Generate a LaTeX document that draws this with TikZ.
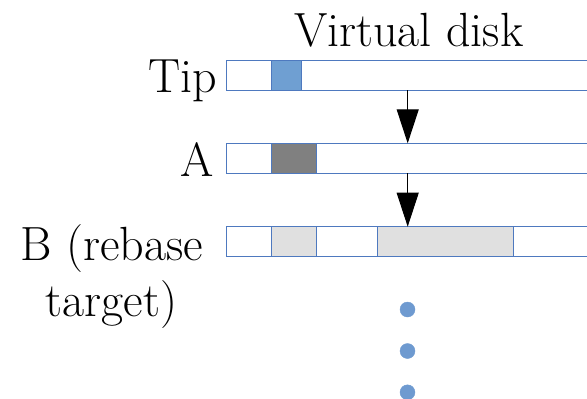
\documentclass[tikz,border=0pt]{standalone}
\usetikzlibrary{arrows.meta}
\definecolor{edgeblue}{HTML}{4E79BF}
\definecolor{cellblue}{HTML}{6F9FD2}
\definecolor{celldark}{HTML}{808080}
\definecolor{celllight}{HTML}{E0E0E0}
\definecolor{dotblue}{HTML}{6E9AD0}
\begin{document}
\begin{tikzpicture}[x=1pt,y=-1pt,
  lbl/.style={inner sep=0pt, font=\fontsize{48}{56}\selectfont},
  bar/.style={draw=edgeblue, line width=0.9pt, fill=white, anchor=north west,
    minimum width=400pt, minimum height=30pt, inner sep=0pt, outer sep=0pt},
  cell/.style={draw=edgeblue, line width=0.9pt, anchor=north west,
    minimum height=30pt, inner sep=0pt, outer sep=0pt},
  dot/.style={circle, fill=dotblue, draw=dotblue, line width=0.4pt,
    minimum size=15pt, inner sep=0pt},
  link/.style={line width=1pt, -{Triangle[length=34pt,width=22pt]}}]
  \useasboundingbox (0,0) rectangle (587,399);
  \clip (0,0) rectangle (587,399);

  % title
  \node[lbl, anchor=base] (title) at (408.7,46.7) {Virtual disk};

  % the three disks of the chain
  \node[bar] (tip) at (226,60) {};
  \node[bar] (a)   at (226,143.3) {};
  \node[bar] (b)   at (226,226.7) {};

  % populated blocks
  \node[cell, fill=cellblue, minimum width=30pt]   (tipblk) at (271.7,60) {};
  \node[cell, fill=celldark, minimum width=45pt]   (ablk)   at (271.7,143.3) {};
  \node[cell, fill=celllight, minimum width=45pt]  (bblk1)  at (271.7,226.7) {};
  \node[cell, fill=celllight, minimum width=136pt] (bblk2)  at (377.3,226.7) {};
  \node[cell, minimum width=60.6pt] (bgap) at (316.7,226.7) {};

  % labels
  \node[lbl, anchor=base east] (tiplbl) at (217,92.7) {Tip};
  \node[lbl, anchor=base east] (albl) at (214,176) {A};
  \node[lbl, anchor=base, align=center] (blbl) at (111.5,316) {B (rebase\\target)};

  % parent links
  \coordinate (axis) at (407.7,0);
  \draw[link] (tip.south -| axis) -- (a.north -| axis);
  \draw[link] (a.south -| axis) -- (b.north -| axis);

  % more disks further down the chain
  \node[dot] (d1) at (407.5,309.5) {};
  \node[dot] (d2) at (407.5,351) {};
  \node[dot] (d3) at (407.5,392.3) {};
\end{tikzpicture}
\end{document}
